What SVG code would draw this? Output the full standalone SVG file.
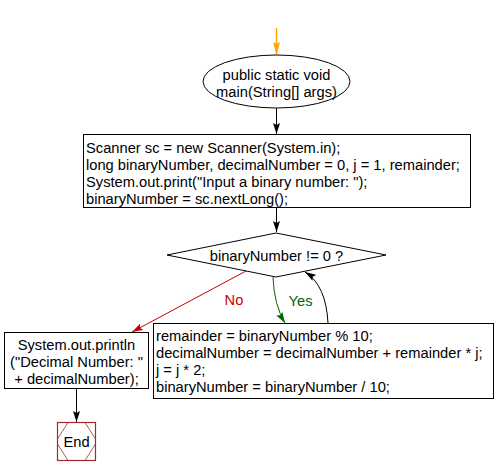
<svg xmlns="http://www.w3.org/2000/svg" width="497" height="476" viewBox="0 0 497 476">
<defs>
<style>
text{font-family:"Liberation Sans",Arial,sans-serif;font-size:14.7px;fill:#000}
.box{fill:#fff;stroke:#000;stroke-width:1}
.c{text-anchor:middle}
.ln{fill:none;stroke:#000;stroke-width:1}
</style>
<marker id="ab" markerWidth="12" markerHeight="8" refX="11" refY="4" orient="auto" markerUnits="userSpaceOnUse"><path d="M0,0.5 L11,4 L0,7.5 L2,4 z" fill="#000"/></marker>
<marker id="ao" markerWidth="14" markerHeight="8" refX="13" refY="4" orient="auto" markerUnits="userSpaceOnUse"><path d="M0,0.5 L13,4 L0,7.5 L2,4 z" fill="#ffa500"/></marker>
<marker id="ar" markerWidth="12" markerHeight="8" refX="11" refY="4" orient="auto" markerUnits="userSpaceOnUse"><path d="M0,0.5 L11,4 L0,7.5 L2,4 z" fill="#cc0000"/></marker>
<marker id="ag" markerWidth="12" markerHeight="8" refX="11" refY="4" orient="auto" markerUnits="userSpaceOnUse"><path d="M0,0.5 L11,4 L0,7.5 L2,4 z" fill="#006600"/></marker>
</defs>
<rect width="497" height="476" fill="#fff"/>
<g id="connectors">
<line x1="276.5" y1="28" x2="276.5" y2="55" stroke="#ffa500" stroke-width="1.5" marker-end="url(#ao)"/>
<line class="ln" x1="276.5" y1="108" x2="276.5" y2="134" marker-end="url(#ab)"/>
<line class="ln" x1="276.5" y1="208" x2="276.5" y2="232" marker-end="url(#ab)"/>
<line x1="246" y1="271" x2="132" y2="332" stroke="#cc0000" stroke-width="1" marker-end="url(#ar)"/>
<path d="M273,277 Q274,305 285,323" fill="none" stroke="#006600" stroke-width="1" marker-end="url(#ag)"/>
<path class="ln" d="M328,323 Q326,285 305,272" marker-end="url(#ab)"/>
<line class="ln" x1="76.5" y1="388" x2="76.5" y2="422" marker-end="url(#ab)"/>
<text x="234" y="305" class="c" style="fill:#cc0000">No</text>
<text x="300.5" y="306" class="c" style="fill:#006600">Yes</text>
</g>
<g id="start">
<ellipse cx="276.5" cy="81.5" rx="73.5" ry="26.5" class="box"/>
<text x="276.5" y="80" class="c">public static void</text>
<text x="276.5" y="97" class="c">main(String[] args)</text>
</g>
<g id="init">
<rect x="83.5" y="134.5" width="387" height="73" class="box"/>
<text x="86" y="152.5">Scanner sc = new Scanner(System.in);</text>
<text x="86" y="169.5">long binaryNumber, decimalNumber = 0, j = 1, remainder;</text>
<text x="86" y="186.5">System.out.print("Input a binary number: ");</text>
<text x="86" y="203.5">binaryNumber = sc.nextLong();</text>
</g>
<g id="cond">
<polygon points="276,233 386,255 276,277 167,255" class="box"/>
<text x="276.5" y="260.5" class="c">binaryNumber != 0 ?</text>
</g>
<g id="loop">
<rect x="153.5" y="323.5" width="340" height="75" class="box"/>
<text x="156" y="341">remainder = binaryNumber % 10;</text>
<text x="156" y="358">decimalNumber = decimalNumber + remainder * j;</text>
<text x="156" y="375">j = j * 2;</text>
<text x="156" y="392">binaryNumber = binaryNumber / 10;</text>
</g>
<g id="print">
<rect x="4.5" y="332.5" width="144" height="56" class="box"/>
<text x="76.5" y="350" class="c">System.out.println</text>
<text x="76.5" y="367" class="c">("Decimal Number: "</text>
<text x="76.5" y="384" class="c">+ decimalNumber);</text>
</g>
<g id="end">
<rect x="57.5" y="422.5" width="38" height="38" fill="#fff" stroke="#a52a2a" stroke-width="1.2"/>
<polygon points="68,422.5 85,422.5 95.5,439 95.5,444 85,460.5 68,460.5 57.5,444 57.5,439" fill="none" stroke="#a52a2a" stroke-width="0.8"/>
<text x="76.5" y="447" class="c">End</text>
</g>
</svg>
